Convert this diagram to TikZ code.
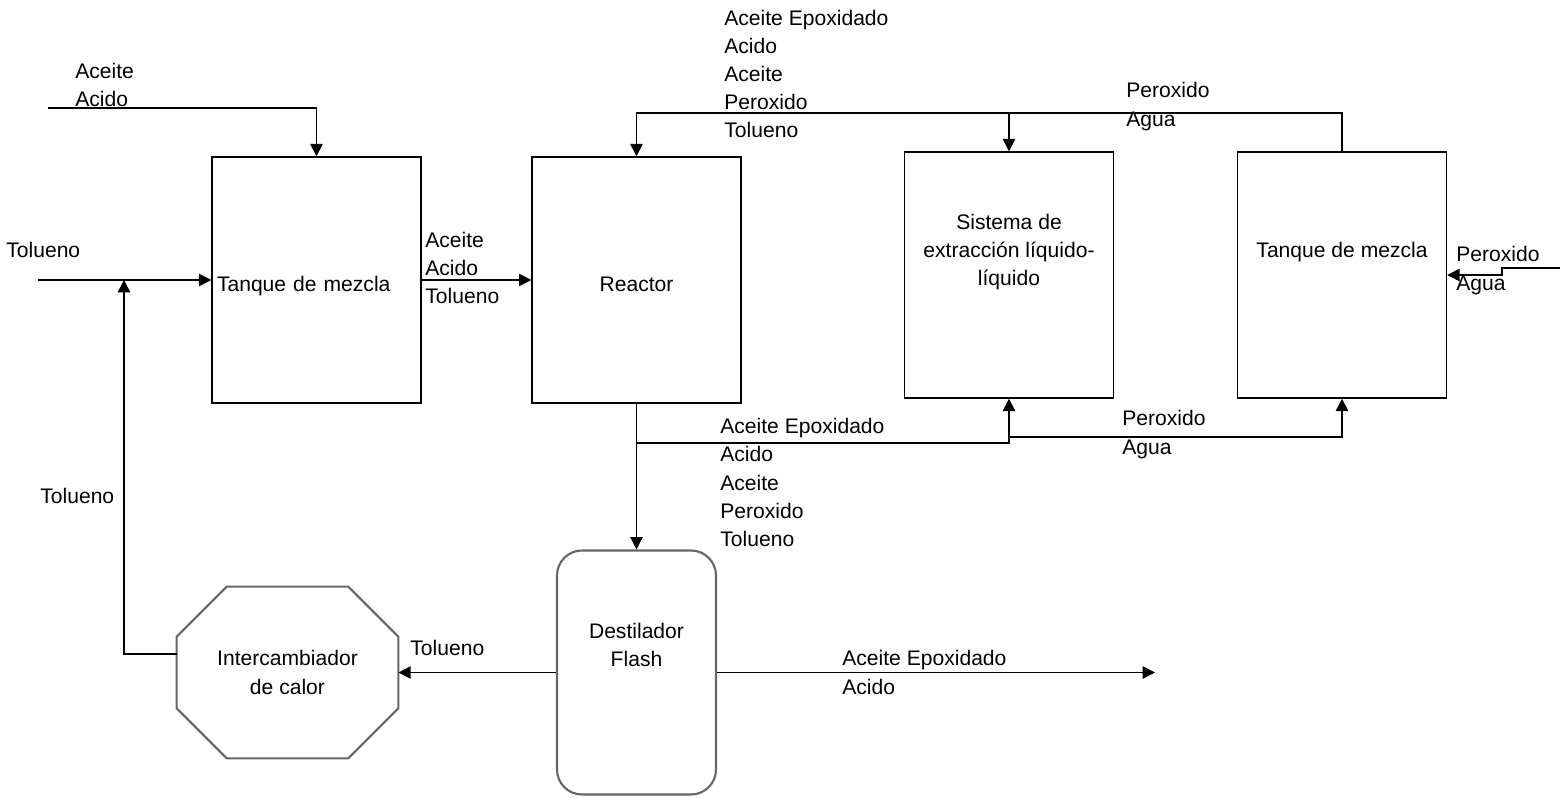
\documentclass[tikz,border=0pt]{standalone}
\usepackage{fontspec}
\setmainfont{Liberation Sans}
\usetikzlibrary{arrows.meta,calc}

\begin{document}
\begin{tikzpicture}[
	every node/.style={font=\fontsize{12}{16}\selectfont},
	unit/.style={rectangle,draw,line width=0.8pt,minimum width=4.18cm,minimum height=4.92cm,inner sep=0pt},
	vessel/.style={rectangle,draw=black!60,line width=1.2pt,rounded corners=0.5cm,minimum width=3.18cm,minimum height=4.88cm,inner sep=0pt},
	pipe/.style={line width=0.8pt},
	flow/.style={pipe,-{Triangle[length=7pt,width=7pt]}},
	lbl/.style={align=left,anchor=west,inner sep=0pt}
]
\useasboundingbox (0,0) rectangle (31.24,15.96);

	\node[unit,text width=3.98cm,align=left,text height=0.54cm,text depth=0.09cm] (mix1) at (6.33,10.36) {Tanque de mezcla};
	\node[unit,text height=0.54cm,text depth=0.09cm] (reactor) at (12.73,10.36) {Reactor};
	\node[unit,align=center,text depth=1cm] (extract) at (20.18,10.46) {Sistema de\\extracción líquido-\\líquido};
	\node[unit,text height=0.3cm,text depth=1cm] (mix2) at (26.84,10.46) {Tanque de mezcla};
	\node[vessel,align=center,text depth=1.1cm] (flash) at (12.73,2.51) {Destilador\\Flash};
	\node[minimum width=4.42cm,minimum height=3.42cm,inner sep=0pt,align=center] (hx) at (5.75,2.51) {Intercambiador\\de calor};
	\draw[draw=black!60,line width=1.2pt] ($(hx.north west)+(1,0)$) -- ($(hx.north east)+(-1,0)$) -- ($(hx.north east)+(0,-1)$) -- ($(hx.south east)+(0,1)$) -- ($(hx.south east)+(-1,0)$) -- ($(hx.south west)+(1,0)$) -- ($(hx.south west)+(0,1)$) -- ($(hx.north west)+(0,-1)$) -- cycle;

	\coordinate (feed) at (0.96,13.8);
	\coordinate (tin) at (0.76,10.36);
	\coordinate (join) at (2.48,10.36);
	\coordinate (ret) at (12.73,13.7);
	\coordinate (br1) at (12.73,7.1);
	\coordinate (br2) at (20.18,7.22);
	\coordinate (pin) at (31.2,10.6);
	\coordinate (out) at (23.1,2.51);

\draw[flow] (feed) -| (mix1.north);
\draw[flow] (tin) -- (mix1.west);
\draw[flow] (hx.west) ++(0,0.37) -| (join);
\draw[flow] (mix1.east) -- (reactor.west);
\draw[flow] (reactor.south) -- (flash.north);
\draw[flow] (br1) -| (extract.south);
\draw[flow] (br2) -| (mix2.south);
\draw[flow] (mix2.north) |- (ret) -- (reactor.north);
\draw[flow] (extract.north |- ret) -- (extract.north);
\draw[flow] (pin) -- ++(-1.16,0) |- (mix2.east);
\draw[flow] (flash.west) -- (hx.east);
\draw[flow] (flash.east) -- (out);

	\node[lbl] (lfeed) at (1.5,14.26) {Aceite\\Acido};
	\node[lbl] (ltin) at (0.12,10.96) {Tolueno};
	\node[lbl] (ljoin) at (0.8,6.04) {Tolueno};
	\node[lbl] (lmix1) at (8.5,10.6) {Aceite\\Acido\\Tolueno};
	\node[lbl] (lret) at (14.48,14.48) {Aceite Epoxidado\\Acido\\Aceite\\Peroxido\\Tolueno};
	\node[lbl] (lret2) at (22.52,13.83) {Peroxido\\Agua};
	\node[lbl] (lpin) at (29.12,10.55) {Peroxido\\Agua};
	\node[lbl] (lbr1) at (14.4,6.31) {Aceite Epoxidado\\Acido\\Aceite\\Peroxido\\Tolueno};
	\node[lbl] (lbr2) at (22.44,7.27) {Peroxido\\Agua};
	\node[lbl] (lhx) at (8.2,3.0) {Tolueno};
	\node[lbl] (lout) at (16.84,2.51) {Aceite Epoxidado\\Acido};

\end{tikzpicture}
\end{document}
